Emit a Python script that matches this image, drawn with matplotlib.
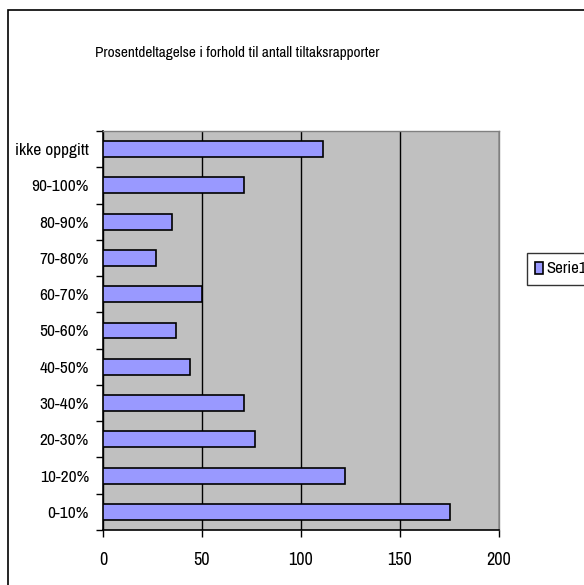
import matplotlib.pyplot as plt
from matplotlib.patches import Rectangle
from matplotlib.ticker import FixedLocator

categories = ['0-10%', '10-20%', '20-30%', '30-40%', '40-50%', '50-60%',
              '60-70%', '70-80%', '80-90%', '90-100%', 'ikke oppgitt']
values = [175, 122, 77, 71, 44, 37, 50, 27, 35, 71, 111]
xticks = [0, 50, 100, 150, 200]
title = 'Prosentdeltagelse i forhold til antall tiltaksrapporter'
series_name = 'Serie1'

plt.rcParams['font.family'] = ['Archivo Narrow', 'DejaVu Sans']

fig = plt.figure(figsize=(5.84, 5.85), dpi=100)
fig.patch.set_facecolor('white')

# outer chart frame (runs off the right and bottom edge)
fig.patches.append(Rectangle((7.5 / 584, -0.1), 1.2, 1.1 - 10 / 585, transform=fig.transFigure,
                             fill=False, edgecolor='black', linewidth=1.2))

ax = fig.add_axes([103 / 584, 55 / 585, 396 / 584, 399 / 585])
ax.set_facecolor('#c0c0c0')

pos = list(range(len(categories)))
ax.barh(pos, values, height=0.44, color='#9999ff', edgecolor='black',
        linewidth=1.2, label=series_name, zorder=3)

ax.set_xlim(0, 200)
ax.set_ylim(-0.5, len(categories) - 0.5)
ax.set_xticks(xticks)
ax.set_yticks(pos)
ax.set_yticklabels(categories)
ax.yaxis.set_minor_locator(FixedLocator([p - 0.5 for p in pos] + [len(pos) - 0.5]))
ax.tick_params(axis='y', which='major', length=0, pad=10, labelsize=12.5)
ax.tick_params(axis='y', which='minor', length=5, width=1, direction='out')
ax.tick_params(axis='x', which='major', length=5, width=1, direction='out', pad=11, labelsize=13)

ax.grid(axis='x', color='black', linewidth=1, zorder=1)
ax.set_axisbelow(True)

for s in ['left', 'bottom']:
    ax.spines[s].set_color('black')
    ax.spines[s].set_linewidth(1.2)
for s in ['top', 'right']:
    ax.spines[s].set_color('#808080')
    ax.spines[s].set_linewidth(1)

fig.text(237 / 584, 1 - 53 / 585, title, ha='center', va='center', fontsize=11)

leg = ax.legend(loc='center left', bbox_to_anchor=(527 / 584, 1 - 269 / 585),
                bbox_transform=fig.transFigure, frameon=True, fancybox=False,
                edgecolor='black', fontsize=12, handlelength=0.45, handleheight=0.75,
                handletextpad=0.2, borderpad=0.5, borderaxespad=0)
leg._legend_box.sep = 0
leg.get_frame().set_linewidth(1)

fig.savefig('out.png', dpi=100)
